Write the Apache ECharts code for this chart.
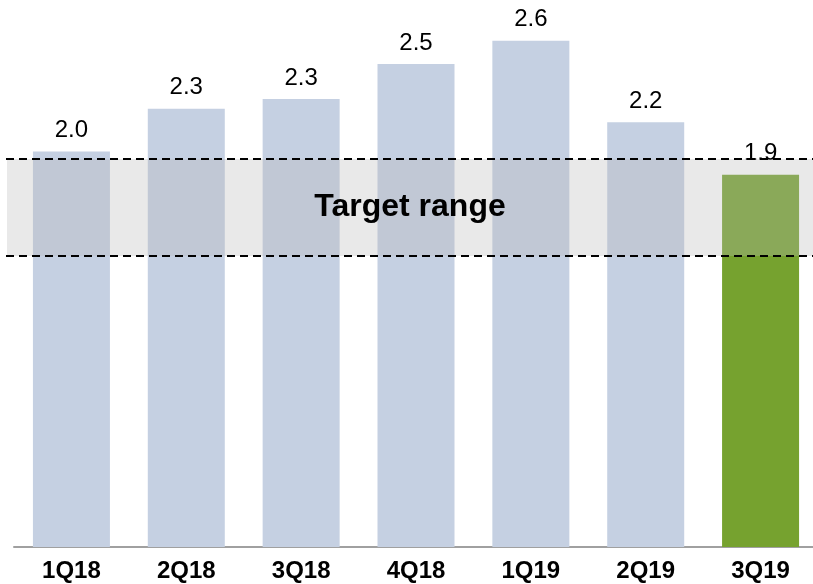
<!DOCTYPE html>
<html>
<head>
<meta charset="utf-8">
<script src="https://cdn.jsdelivr.net/npm/echarts@6/dist/echarts.min.js"></script>
<style>
  html, body { margin: 0; padding: 0; background: #fff; }
  #chartBox { width: 813px; height: 584px; }
</style>
</head>
<body>
<div id="chartBox"></div>
<script>
// quarters and values
var quarters = ['1Q18', '2Q18', '3Q18', '4Q18', '1Q19', '2Q19', '3Q19'];
var values = [2.04, 2.26, 2.31, 2.49, 2.61, 2.19, 1.92];
// target range bounds
var targetLow = 1.5;
var targetHigh = 2.0;

var barColor = '#c5d0e2';
var lastColor = '#76a22f';
var fontName = 'Liberation Sans, Arial, sans-serif';

window.addEventListener('load', function() {
	var myChart = echarts.init(document.getElementById('chartBox'));

	var barData = values.map(function(v, i) {
		return {
			value: v,
			itemStyle: { color: i === values.length - 1 ? lastColor : barColor }
		};
	});

	var option = {
		animation: false,
		grid: { left: 14, width: 804, top: 4, bottom: 37, outerBoundsMode: 'none' },
		xAxis: {
			type: 'category',
			data: quarters,
			axisTick: { show: false },
			axisLine: { lineStyle: { color: '#a0a0a0', width: 2 } },
			axisLabel: {
				color: '#000',
				fontFamily: fontName,
				fontWeight: 'bold',
				fontSize: 24,
				margin: 12
			}
		},
		yAxis: {
			type: 'value',
			min: 0,
			max: 2.8,
			show: false,
			splitLine: { show: false }
		},
		series: [{
			type: 'bar',
			data: barData,
			barWidth: 77,
			label: {
				show: true,
				position: 'top',
				distance: 9,
				color: '#000',
				fontFamily: fontName,
				fontSize: 24,
				formatter: function(p) { return p.value.toFixed(1); }
			}
		}]
	};
	myChart.setOption(option);

	// target band and dashed lines, placed from the y scale
	var yHigh = Math.round(myChart.convertToPixel({ yAxisIndex: 0 }, targetHigh));
	var yLow = Math.round(myChart.convertToPixel({ yAxisIndex: 0 }, targetLow));
	var x0 = 7, x1 = 813;
	var dash = { stroke: '#000', lineWidth: 2, lineDash: [8, 5] };

	myChart.setOption({
		graphic: [
			{
				type: 'rect', z: 100,
				shape: { x: x0, y: yHigh, width: x1 - x0, height: yLow - yHigh },
				style: { fill: 'rgba(183,183,183,0.31)' }
			},
			{
				type: 'line', z: 101,
				shape: { x1: x0 - 1, y1: yHigh, x2: x1, y2: yHigh },
				style: dash
			},
			{
				type: 'line', z: 101,
				shape: { x1: x0 - 1, y1: yLow, x2: x1, y2: yLow },
				style: dash
			},
			{
				type: 'text', z: 102,
				x: (x0 + x1) / 2, y: (yHigh + yLow) / 2,
				style: {
					text: 'Target range',
					fill: '#000',
					font: 'bold 32px ' + fontName,
					align: 'center',
					verticalAlign: 'middle'
				}
			}
		]
	});
});
</script>
</body>
</html>
